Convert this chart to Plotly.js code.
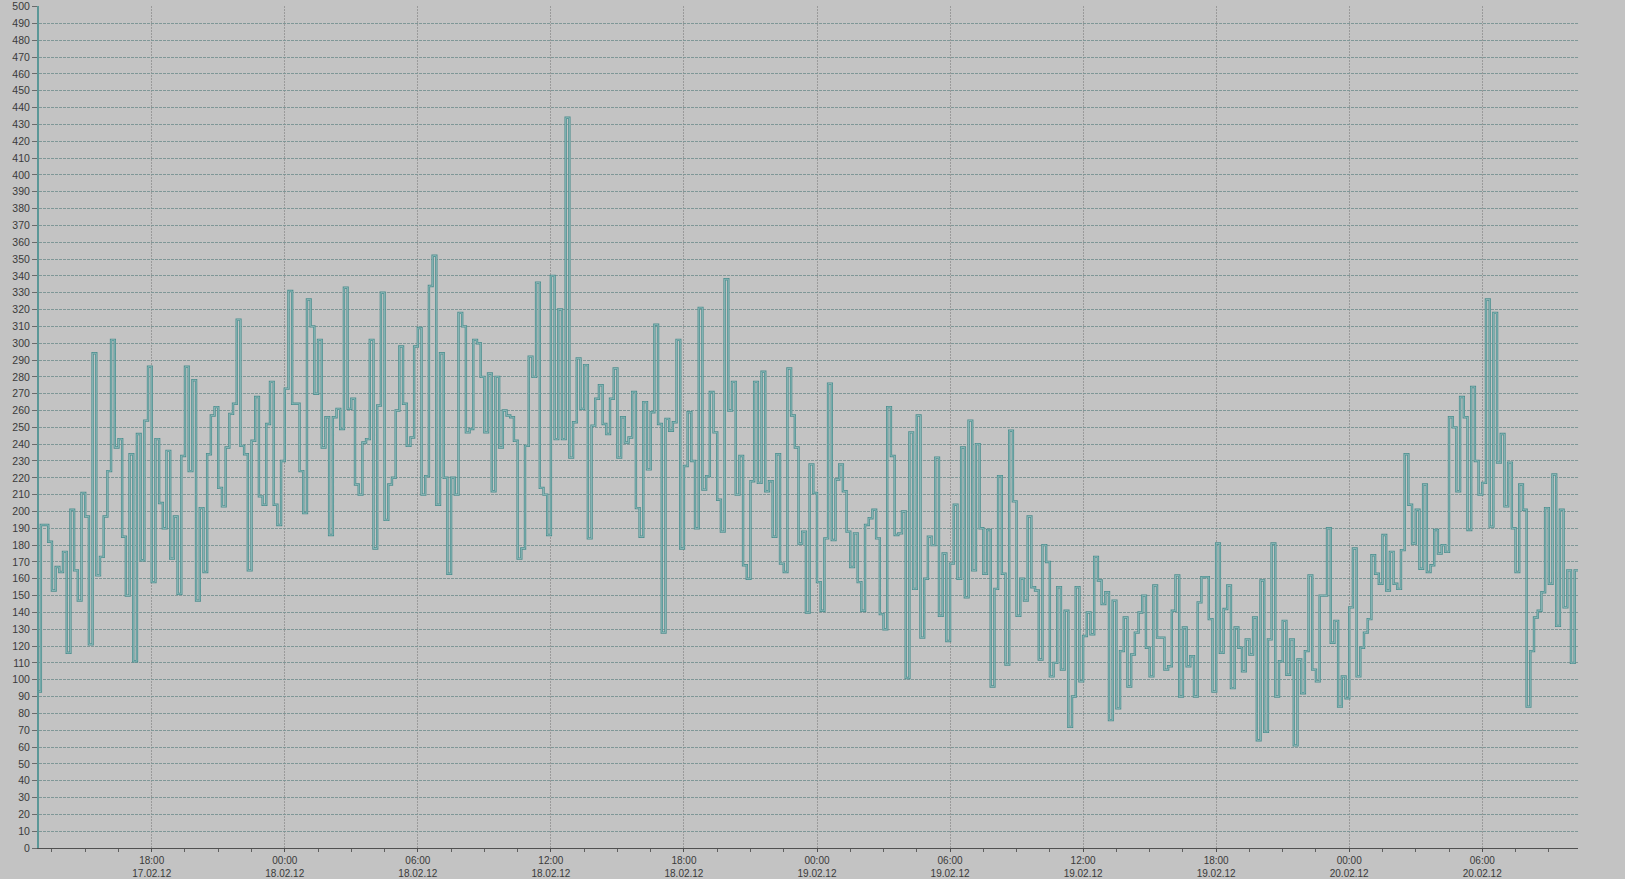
<!DOCTYPE html>
<html>
<head>
<meta charset="utf-8">
<script src="https://cdn.plot.ly/plotly-3.0.1.min.js"></script>
<style>
html,body{margin:0;padding:0;background:#ffffff;overflow:hidden}
#chart{width:1625px;height:879px}
</style>
</head>
<body>
<div id="chart"></div>
<script>
// ---- data (10-minute readings) ----
const stepMinutes = 10;

const start17 = '2012-02-17 12:50';
const values17 = [93,
  192,192,182,153,167,164,176,116,201,165,147,211,197,121,294,162,173,197,224,302,238,243,185,150,234,111,246,171,254,286,
  158,243,205,190,236,172,197,151,233,286,224,278,147,202,164,234,257,262,214,203,238,258,264,314,239,234,165,242,268,209,204,252,277,204,192,230];

const start18 = '2012-02-18 00:00';
const values18 = [
  273,331,264,264,224,199,326,310,270,302,238,256,186,256,261,249,333,261,267,216,210,241,243,302,178,263,330,195,216,220,260,298,264,239,244,298,
  309,210,221,334,352,204,294,220,163,220,210,318,310,247,249,302,300,280,247,282,212,280,238,260,257,256,242,172,178,239,292,280,336,214,210,186,
  340,243,320,243,434,232,253,291,261,287,184,251,267,275,252,246,267,285,232,256,241,244,271,202,185,265,225,259,311,252,128,255,248,253,302,178,
  227,259,230,190,321,213,221,271,247,207,188,338,260,277,210,233,168,160,218,277,217,283,212,218,185,234,169,164,285,257,238,181,188,140,228,211];

const start19 = '2012-02-19 00:00';
const values19 = [
  158,141,184,276,183,219,228,212,188,167,187,158,141,192,196,201,184,139,130,262,233,186,187,200,101,247,154,257,125,160,185,180,232,138,175,123,
  169,204,160,238,149,254,165,240,190,163,189,96,154,221,163,109,248,206,138,160,147,197,155,153,112,180,170,102,110,155,106,141,72,90,155,99,
  126,140,127,173,159,145,152,76,147,83,117,137,96,115,128,140,150,119,102,156,125,125,106,108,141,162,90,131,108,114,90,146,161,161,136,93,
  181,116,142,156,95,131,119,105,124,115,137,64,159,69,124,181,90,111,135,103,124,61,112,92,117,162,106,99,150,150,190,122,135,84,102,89];

const start20 = '2012-02-20 00:00';
const values20 = [
  143,178,102,119,128,136,174,163,157,186,153,176,157,154,177,234,204,181,201,166,216,164,168,189,175,180,176,256,250,212,268,256,189,274,230,210,
  217,326,191,318,229,246,203,229,190,164,216,201,84,117,137,141,152,202,157,222,132,201,143,165,110,165,165];

const tickVals = ['2012-02-17 18:00','2012-02-18 00:00','2012-02-18 06:00','2012-02-18 12:00','2012-02-18 18:00',
  '2012-02-19 00:00','2012-02-19 06:00','2012-02-19 12:00','2012-02-19 18:00','2012-02-20 00:00','2012-02-20 06:00'];
const tickText = ['18:00<br>17.02.12','00:00<br>18.02.12','06:00<br>18.02.12','12:00<br>18.02.12','18:00<br>18.02.12',
  '00:00<br>19.02.12','06:00<br>19.02.12','12:00<br>19.02.12','18:00<br>19.02.12','00:00<br>20.02.12','06:00<br>20.02.12'];
const xRange = ['2012-02-17 12:55','2012-02-20 10:19'];

// ---- build time stamps ----
function fmt(dt){
  const p = n => String(n).padStart(2,'0');
  return dt.getUTCFullYear()+'-'+p(dt.getUTCMonth()+1)+'-'+p(dt.getUTCDate())+' '+p(dt.getUTCHours())+':'+p(dt.getUTCMinutes());
}
function times(start, n){
  const [d,t] = start.split(' ');
  const [Y,M,D] = d.split('-').map(Number);
  const [h,m] = t.split(':').map(Number);
  const base = Date.UTC(Y,M-1,D,h,m);
  const out = [];
  for (let i=0;i<n;i++) out.push(fmt(new Date(base + i*stepMinutes*60000)));
  return out;
}
const xs = [].concat(times(start17,values17.length), times(start18,values18.length),
                     times(start19,values19.length), times(start20,values20.length));
const ys = [].concat(values17, values18, values19, values20);

const traces = [
  {x:xs, y:ys, type:'scatter', mode:'lines', line:{shape:'hv', color:'#4f8f8f', width:2.4}, hoverinfo:'skip', cliponaxis:true},
  {x:xs, y:ys, type:'scatter', mode:'lines', line:{shape:'hv', color:'#9fc6c6', width:0.7}, hoverinfo:'skip', cliponaxis:true}
];

const layout = {
  width:1625, height:879,
  margin:{l:39, r:47, t:6, b:31, pad:0},
  paper_bgcolor:'#c3c3c3', plot_bgcolor:'#c3c3c3',
  showlegend:false,
  font:{family:'Liberation Sans, Arial, sans-serif', color:'#3a3a3a', size:10},
  xaxis:{
    type:'date', range:xRange, tickmode:'array', tickvals:tickVals, ticktext:tickText,
    showgrid:true, gridcolor:'#9a9a9a', griddash:'2px,1px', gridwidth:1,
    showline:true, linecolor:'#505050', linewidth:1,
    ticks:'outside', ticklen:3, tickcolor:'#505050',
    tickfont:{size:10, color:'#3a3a3a'},
    minor:{tickmode:'linear', tick0:'2012-02-17 18:00', dtick:5400000, ticks:'outside', ticklen:3, tickcolor:'#606060', showgrid:false},
    zeroline:false, fixedrange:true
  },
  yaxis:{
    range:[0,500.4], tickmode:'linear', tick0:0, dtick:10,
    showgrid:true, gridcolor:'#7f9797', griddash:'3px,1px', gridwidth:1,
    showline:true, linecolor:'#5b9797', linewidth:2,
    ticks:'outside', ticklen:5, tickcolor:'#6a6a6a',
    tickfont:{size:10.5, color:'#3a3a3a'},
    zeroline:false, fixedrange:true
  }
};

Plotly.newPlot('chart', traces, layout, {displayModeBar:false, staticPlot:true});
</script>
</body>
</html>
